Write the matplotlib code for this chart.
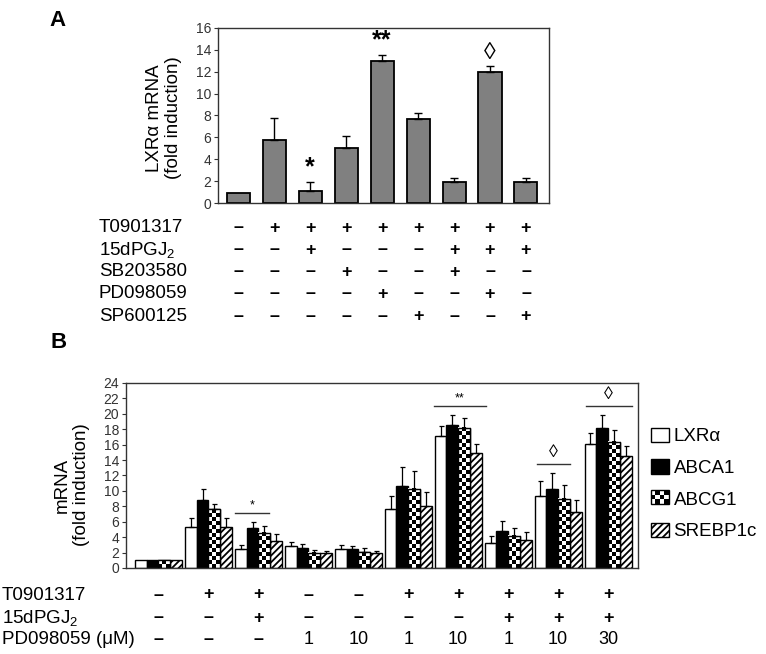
import numpy as np
import matplotlib.pyplot as plt
from matplotlib.patches import Rectangle
from matplotlib.transforms import blended_transform_factory

plt.rcParams['font.family'] = ['Liberation Sans', 'DejaVu Sans']
plt.rcParams['mathtext.fontset'] = 'custom'
plt.rcParams['mathtext.rm'] = 'Liberation Sans'
plt.rcParams['mathtext.it'] = 'Liberation Sans:italic'
plt.rcParams['hatch.linewidth'] = 1.3

# ---- panel A data
a_mean = [0.95, 5.8, 1.1, 5.05, 12.95, 7.7, 1.9, 12.0, 1.9]
a_err = [0, 2.0, 0.8, 1.05, 0.55, 0.55, 0.35, 0.55, 0.4]
a_marks = ['', '', '*', '', '**', '', '', '\u25ca', '']
a_rows = ['T0901317', '15dPGJ$_2$', 'SB203580', 'PD098059', 'SP600125']
a_signs = [
    '-++++++++',
    '--+---+++',
    '---+--+--',
    '----+--+-',
    '-----+--+',
]

# ---- panel B data
genes = ['LXR\u03b1', 'ABCA1', 'ABCG1', 'SREBP1c']
lxr = [1.0, 5.36, 2.42, 2.85, 2.46, 7.65, 17.12, 3.29, 9.38, 16.08]
lxr_err = [0, 1.17, 0.56, 0.56, 0.52, 1.69, 1.3, 0.86, 1.95, 1.39]
abca1 = [1.0, 8.82, 5.23, 2.64, 2.46, 10.68, 18.55, 4.84, 10.29, 18.2]
abca1_err = [0, 1.38, 0.74, 0.51, 0.39, 2.38, 1.29, 1.3, 2.03, 1.64]
abcg1 = [1.0, 7.6, 4.58, 1.99, 2.07, 10.3, 18.2, 4.19, 8.99, 16.38]
abcg1_err = [0, 0.7, 0.91, 0.34, 0.48, 2.28, 1.26, 1.0, 1.78, 1.52]
srebp = [1.0, 5.36, 3.55, 1.9, 1.9, 8.08, 14.87, 3.68, 7.26, 14.53]
srebp_err = [0, 1.17, 0.9, 0.35, 0.35, 1.78, 1.21, 0.99, 1.56, 1.33]
b_rows = ['T0901317', '15dPGJ$_2$', 'PD098059 (\u03bcM)']
b_t09 = ['\u2013', '+', '+', '\u2013', '\u2013', '+', '+', '+', '+', '+']
b_pgj = ['\u2013', '\u2013', '+', '\u2013', '\u2013', '\u2013', '\u2013', '+', '+', '+']
b_pd = ['\u2013', '\u2013', '\u2013', '1', '10', '1', '10', '1', '10', '30']
# significance marks: group, text, line start/end relative to group centre
b_sig = [(2, '*', -0.47, 0.21), (6, '**', -0.49, 0.55),
         (8, '\u25ca', -0.43, 0.23), (9, '\u25ca', -0.45, 0.47)]

fig = plt.figure(figsize=(7.66, 6.54), dpi=100)
axA = fig.add_axes([0.2846, 0.6896, 0.4321, 0.2676])
axB = fig.add_axes([0.1645, 0.1315, 0.6684, 0.2829])

for ax in (axA, axB):
    for s in ax.spines.values():
        s.set_color('#333333')
        s.set_linewidth(1.0)
    ax.set_xticks([])
    ax.tick_params(axis='y', direction='out', length=3, width=0.8,
                   labelsize=10, labelcolor='#333333', color='#333333', pad=2)

# ---------------- panel A
xa = np.arange(len(a_mean))
axA.bar(xa, a_mean, 0.64, color='#808080', edgecolor='black', linewidth=1.3, zorder=2)
ea = np.array(a_err)
m = ea > 0
axA.errorbar(xa[m], np.array(a_mean)[m], yerr=[np.zeros(m.sum()), ea[m]], fmt='none',
             ecolor='black', elinewidth=1, capsize=3, capthick=1, zorder=3)
for i, mk in enumerate(a_marks):
    if mk == '\u25ca':
        axA.text(i, a_mean[i] + a_err[i] + 0.2, mk, ha='center', va='bottom', fontsize=17)
    elif mk:
        axA.text(i, a_mean[i] + a_err[i] + 0.3, mk, ha='center', va='bottom',
                 fontsize=18, fontweight='bold')
axA.set_xlim(-0.56, 8.64)
axA.set_ylim(0, 16)
axA.set_yticks(range(0, 17, 2))

ta = blended_transform_factory(axA.transData, fig.transFigure)
row_y_a = [1 - 228 / 654, 1 - 250 / 654, 1 - 272 / 654, 1 - 294 / 654, 1 - 316 / 654]
for r, (lab, signs) in enumerate(zip(a_rows, a_signs)):
    fig.text(99 / 766, row_y_a[r], lab, fontsize=13.5, va='center', ha='left')
    for i, s in enumerate(signs):
        axA.text(i, row_y_a[r], '+' if s == '+' else '\u2013', transform=ta,
                 ha='center', va='center', fontsize=13, fontweight='bold', clip_on=False)

fig.text(164 / 766, 1 - 118 / 654, 'LXR\u03b1 mRNA\n(fold induction)', rotation=90,
         ha='center', va='center', fontsize=13.5, multialignment='center')
fig.text(58 / 766, 1 - 21 / 654, 'A', fontsize=16, fontweight='bold', ha='center', va='center')
fig.text(59 / 766, 1 - 343 / 654, 'B', fontsize=16, fontweight='bold', ha='center', va='center')

# ---------------- panel B
w = 0.235
xb = np.arange(len(lxr))
axB.set_xlim(-0.65, 9.6)
axB.set_ylim(0, 24)
axB.set_yticks(range(0, 25, 2))

vals = [lxr, abca1, abcg1, srebp]
errs = [lxr_err, abca1_err, abcg1_err, srebp_err]
styles = [dict(color='white'), dict(color='black'), dict(color='white'),
          dict(color='white', hatch='/////')]
bar_sets = []
for k in range(4):
    xs = xb + (k - 1.5) * w
    bars = axB.bar(xs, vals[k], w, edgecolor='black', linewidth=1.0, zorder=2, **styles[k])
    bar_sets.append(bars)
    e = np.array(errs[k])
    mm = e > 0
    axB.errorbar(xs[mm], np.array(vals[k])[mm], yerr=[np.zeros(mm.sum()), e[mm]], fmt='none',
                 ecolor='black', elinewidth=0.9, capsize=1.8, capthick=0.9, zorder=4)

# checkerboard fill for ABCG1
fig.canvas.draw()
p0 = axB.transData.transform((0, 0))
p1 = axB.transData.transform((w, 1))
px_x, px_y = p1 - p0
ncol = 3
cell = px_x / ncol
for b in bar_sets[2]:
    x0, h = b.get_x(), b.get_height()
    nrow = max(1, int(round(h * px_y / cell)))
    board = np.indices((nrow, ncol)).sum(axis=0) % 2
    axB.imshow(board, cmap='gray_r', vmin=0, vmax=1, interpolation='nearest',
               extent=(x0, x0 + w, 0, h), aspect='auto', zorder=2.5)
    axB.add_patch(Rectangle((x0, 0), w, h, fill=False, edgecolor='black', linewidth=1.0, zorder=3))
axB.set_xlim(-0.65, 9.6)
axB.set_ylim(0, 24)

for g, txt, a0, a1 in b_sig:
    top = max(vals[k][g] + errs[k][g] for k in range(4))
    ly = top + 1.15
    axB.plot([g + a0, g + a1], [ly, ly], color='#333333', lw=1.0, zorder=4)
    if txt == '\u25ca':
        axB.text(g + (a0 + a1) / 2, ly + 0.4, txt, ha='center', va='bottom', fontsize=13)
    else:
        axB.text(g + (a0 + a1) / 2, ly + 0.2, txt, ha='center', va='bottom', fontsize=9)

tb = blended_transform_factory(axB.transData, fig.transFigure)
row_y_b = [1 - 595 / 654, 1 - 618 / 654, 1 - 640 / 654]
for r, (lab, cells) in enumerate(zip(b_rows, [b_t09, b_pgj, b_pd])):
    fig.text(2 / 766, row_y_b[r], lab, fontsize=13.5, va='center', ha='left')
    for i, s in enumerate(cells):
        axB.text(i, row_y_b[r], s, transform=tb, ha='center', va='center', fontsize=13,
                 fontweight='bold' if s in ('+', '\u2013') else 'normal', clip_on=False)

fig.text(72 / 766, 1 - 485 / 654, 'mRNA\n(fold induction)', rotation=90,
         ha='center', va='center', fontsize=13.5, multialignment='center')


class CheckerHandler:
    def legend_artist(self, legend, orig_handle, fontsize, handlebox):
        x0, y0 = handlebox.xdescent, handlebox.ydescent
        wd, ht = handlebox.width, handlebox.height
        tr = handlebox.get_transform()
        nc, nr = 4, 3
        for i in range(nr):
            for j in range(nc):
                if (i + j) % 2:
                    handlebox.add_artist(Rectangle((x0 + j * wd / nc, y0 + i * ht / nr),
                                                   wd / nc, ht / nr, facecolor='black',
                                                   edgecolor='none', transform=tr))
        frame = Rectangle((x0, y0), wd, ht, fill=False, edgecolor='black', lw=1.0, transform=tr)
        handlebox.add_artist(frame)
        return frame


handles = [Rectangle((0, 0), 1, 1, facecolor='white', edgecolor='black'),
           Rectangle((0, 0), 1, 1, facecolor='black', edgecolor='black'),
           Rectangle((0, 0), 1, 1, facecolor='white', edgecolor='black'),
           Rectangle((0, 0), 1, 1, facecolor='white', edgecolor='black', hatch='/////')]
fig.legend(handles, genes, loc='center left', bbox_to_anchor=(651 / 766, 1 - 484 / 654),
           frameon=False, fontsize=13.5, handlelength=0.95, handleheight=0.8,
           handletextpad=0.25, labelspacing=0.75, borderpad=0, borderaxespad=0,
           handler_map={handles[2]: CheckerHandler()})

fig.savefig('out.png', dpi=100)
